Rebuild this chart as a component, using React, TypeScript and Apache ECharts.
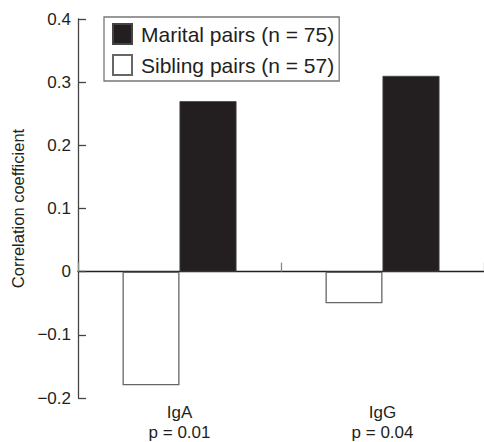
import React, { useEffect, useRef } from "react";
import * as echarts from "echarts";

const categories = ["IgA", "IgG"];
const pValues = ["p = 0.01", "p = 0.04"];
const siblingName = "Sibling pairs (n = 57)";
const maritalName = "Marital pairs (n = 75)";
const siblingValues = [-0.18, -0.05];
const maritalValues = [0.27, 0.31];
const yMin = -0.2;
const yMax = 0.4;
const yStep = 0.1;

const FONT = "'Liberation Sans', Arial, Helvetica, sans-serif";
const INK = "#231f20";

export default function App() {
  const ref = useRef<HTMLDivElement>(null);
  useEffect(() => {
    if (!ref.current) return;
    const chart = echarts.init(ref.current, null, { renderer: "svg" });
    chart.setOption({
      animation: false,
      backgroundColor: "#ffffff",
      textStyle: { fontFamily: FONT, color: INK },
      legend: {
        orient: "vertical",
        left: 104,
        top: 17,
        data: [maritalName, siblingName],
        icon: "rect",
        itemWidth: 19,
        itemHeight: 20,
        itemGap: 9,
        padding: [6, 5, 5, 8],
        borderColor: "#777",
        borderWidth: 1.3,
        textStyle: { fontSize: 21, lineHeight: 20, color: INK, fontFamily: FONT, padding: [0, 0, 0, 4] },
      },
      grid: { left: 78, right: 0, top: 19, bottom: 41, containLabel: false },
      xAxis: [
        {
          type: "category",
          data: categories,
          axisLine: { onZero: true, lineStyle: { color: INK, width: 1.3 } },
          axisTick: { show: true, inside: true, length: 9, lineStyle: { color: "#888", width: 1.3 } },
          axisLabel: { show: false },
          splitLine: { show: false },
        },
        {
          type: "category",
          data: categories.map((c, i) => c + "\n" + pValues[i]),
          position: "bottom",
          axisLine: { show: false, onZero: false },
          axisTick: { show: false },
          axisLabel: { margin: 4, fontSize: 17, lineHeight: 20, color: INK, fontFamily: FONT },
          splitLine: { show: false },
        },
      ],
      yAxis: {
        type: "value",
        min: yMin,
        max: yMax,
        interval: yStep,
        name: "Correlation coefficient",
        nameLocation: "middle",
        nameGap: 45,
        nameTextStyle: { fontSize: 16.5, color: INK, fontFamily: FONT },
        axisLine: { show: true, lineStyle: { color: "#444", width: 1.3 } },
        axisTick: { show: true, inside: true, length: 8, lineStyle: { color: "#444", width: 1.3 } },
        splitLine: { show: false },
        axisLabel: {
          margin: 7,
          fontSize: 17,
          color: INK,
          fontFamily: FONT,
          formatter: (v: number) => {
            const r = Math.round(v * 10) / 10;
            if (r === 0) return "0";
            return r < 0 ? "\u2212" + Math.abs(r).toFixed(1) : r.toFixed(1);
          },
        },
      },
      series: [
        {
          name: siblingName,
          type: "bar",
          xAxisIndex: 0,
          data: siblingValues,
          barWidth: 57,
          barGap: "0%",
          itemStyle: { color: "#ffffff", borderColor: "#666", borderWidth: 1.3 },
        },
        {
          name: maritalName,
          type: "bar",
          xAxisIndex: 0,
          data: maritalValues,
          barWidth: 57,
          barGap: "0%",
          itemStyle: { color: INK, borderColor: "#444", borderWidth: 0.8 },
        },
      ],
    });
    return () => chart.dispose();
  }, []);
  return <div ref={ref} style={{ width: 484, height: 442, position: "absolute", left: 0, top: 0 }} />;
}
